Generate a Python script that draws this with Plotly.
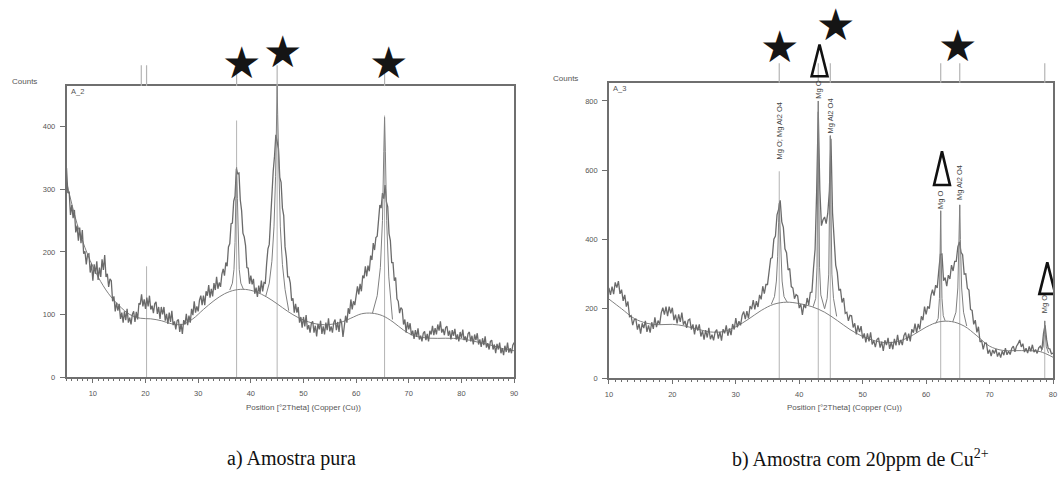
import plotly.graph_objects as go

W, H = 1058, 479
SANS = "Liberation Sans, Arial, sans-serif"
SERIF = "Liberation Serif, Times New Roman, serif"
AX = "#6f6f6f"
OBS = "#6a6a6a"
FIT = "#808080"
REF = "#b4b4b4"

# ---------------- a) pure sample, scan A_2 (5-90 deg, 0.25 deg step) ----------------
a_theta_start, a_theta_step = 5.0, 0.25
a_counts = [
    334, 294, 296, 259, 275, 254, 267, 231, 242, 218, 239, 214, 235, 197, 201, 180, 196, 197, 167, 181,
    154, 180, 165, 185, 155, 175, 160, 188, 171, 195, 160, 165, 144, 157, 154, 121, 129, 105, 119, 106,
    117, 93, 103, 87, 105, 91, 109, 87, 95, 84, 100, 105, 88, 104, 92, 118, 116, 132, 113, 124,
    109, 127, 113, 130, 108, 114, 102, 117, 120, 101, 112, 93, 112, 100, 112, 90, 101, 85, 103, 88,
    106, 83, 89, 76, 90, 92, 72, 85, 69, 91, 84, 101, 83, 98, 87, 109, 99, 121, 103, 113,
    105, 123, 130, 115, 130, 115, 137, 130, 147, 127, 141, 129, 150, 139, 160, 141, 151, 144, 164, 173,
    162, 183, 177, 208, 213, 245, 246, 281, 289, 333, 325, 326, 283, 266, 230, 224, 210, 175, 174, 149,
    162, 148, 157, 133, 143, 128, 146, 134, 154, 137, 151, 150, 181, 205, 212, 256, 277, 329, 353, 387,
    376, 365, 319, 311, 270, 258, 208, 191, 160, 160, 150, 122, 126, 103, 117, 103, 112, 87, 96, 79,
    96, 81, 99, 76, 83, 71, 86, 89, 71, 82, 65, 85, 76, 90, 69, 81, 68, 87, 75, 94,
    73, 81, 71, 87, 92, 75, 88, 72, 93, 86, 64, 83, 98, 87, 110, 101, 124, 108, 121, 115,
    136, 145, 132, 149, 137, 162, 158, 177, 161, 178, 169, 194, 187, 214, 203, 223, 225, 256, 275, 270,
    294, 285, 307, 280, 272, 229, 218, 183, 183, 154, 159, 125, 121, 102, 111, 108, 84, 92, 71, 88,
    76, 86, 67, 74, 61, 75, 64, 78, 60, 66, 57, 70, 73, 59, 69, 57, 74, 68, 82, 67,
    78, 68, 84, 74, 89, 71, 77, 67, 79, 81, 66, 74, 60, 75, 66, 77, 60, 68, 57, 72,
    62, 76, 59, 65, 56, 69, 72, 57, 66, 52, 68, 59, 70, 52, 60, 48, 62, 51, 65, 47,
    54, 44, 57, 59, 44, 52, 38, 53, 44, 55, 38, 46, 35, 50, 40, 55, 39, 46, 38, 51,
    55,
]
a_bg_theta = [5, 7, 9, 11, 13, 15, 17, 19, 21, 23, 25, 27, 29, 31, 33, 35, 37, 39, 41, 43,
              45, 47, 49, 51, 53, 55, 57, 59, 61, 63, 65, 67, 69, 71, 74, 77, 80, 83, 86, 88, 90]
a_bg_counts = [312, 245, 196, 160, 133, 114, 100, 94, 93, 90, 85, 84, 93, 108, 122, 133, 139, 140, 136, 128,
               117, 105, 95, 88, 84, 84, 87, 94, 101, 102, 98, 88, 75, 66, 62, 62, 61, 56, 50, 45, 42]
a_p1_theta = [36.0, 36.5, 36.8, 37.0, 37.15, 37.3, 37.45, 37.6, 37.8, 38.1, 38.6]
a_p1_counts = [139, 150, 172, 215, 285, 335, 285, 215, 172, 150, 140]
a_p2_theta = [42.8, 43.5, 44.0, 44.4, 44.7, 44.9, 45.0, 45.1, 45.3, 45.6, 46.0, 46.5, 47.2]
a_p2_counts = [128, 150, 185, 240, 320, 420, 465, 420, 330, 240, 180, 140, 106]
a_p3_theta = [63.1, 64.0, 64.6, 65.0, 65.25, 65.4, 65.55, 65.8, 66.2, 66.9]
a_p3_counts = [102, 130, 175, 250, 360, 415, 360, 250, 160, 92]
a_ref_theta = [20.2, 37.3, 45.0, 65.4]
a_ref_counts = [177, 410, 465, 418]
a_top_ticks = [19.2, 20.2, 37.3, 45.0, 65.4]
a_stars = [38.25, 46.0, 66.2]

# ---------------- b) sample with 20 ppm Cu2+, scan A_3 (10-80 deg, 0.25 deg step) ----------------
b_theta_start, b_theta_step = 10.0, 0.25
b_counts = [
    260, 240, 264, 242, 276, 261, 280, 243, 255, 223, 240, 206, 221, 177, 180, 153, 169, 170, 140, 156,
    128, 158, 144, 165, 133, 152, 131, 161, 142, 175, 147, 166, 155, 188, 203, 183, 206, 179, 206, 187,
    203, 167, 183, 158, 184, 162, 189, 154, 165, 145, 167, 170, 140, 155, 126, 154, 137, 155, 120, 136,
    111, 138, 117, 145, 112, 125, 109, 133, 140, 114, 133, 108, 141, 129, 152, 122, 143, 124, 156, 140,
    173, 146, 164, 152, 181, 192, 170, 193, 172, 208, 199, 225, 198, 222, 205, 240, 227, 265, 244, 270,
    270, 314, 345, 348, 401, 410, 471, 487, 513, 451, 435, 373, 362, 312, 316, 264, 260, 229, 241, 237,
    202, 213, 182, 213, 202, 231, 211, 247, 248, 317, 372, 541, 769, 542, 440, 457, 465, 446, 476, 540,
    691, 477, 408, 326, 305, 253, 257, 218, 231, 187, 190, 165, 181, 180, 146, 158, 126, 152, 133, 150,
    114, 129, 103, 129, 106, 132, 97, 108, 89, 111, 116, 88, 105, 78, 109, 95, 116, 84, 104, 83,
    113, 94, 125, 95, 110, 95, 122, 131, 107, 128, 106, 141, 131, 157, 131, 156, 141, 178, 167, 206,
    184, 207, 200, 237, 255, 238, 268, 260, 311, 357, 358, 281, 290, 265, 297, 286, 326, 309, 337, 337,
    379, 393, 363, 356, 300, 301, 259, 254, 198, 195, 155, 167, 132, 148, 104, 108, 83, 101, 101, 70,
    82, 63, 81, 71, 84, 62, 74, 59, 78, 66, 86, 67, 77, 68, 86, 92, 76, 92, 99, 110,
    90, 99, 75, 86, 72, 91, 77, 96, 75, 82, 71, 87, 92, 82, 128, 152, 110, 85, 84, 70,
    72,
]
b_bg_theta = [10, 12, 14, 16, 18, 20, 22, 24, 26, 28, 30, 32, 34, 36, 38, 40, 42, 44,
              46, 48, 50, 52, 54, 56, 58, 60, 62, 64, 66, 68, 70, 72, 74, 76, 78, 80]
b_bg_counts = [228, 200, 172, 158, 154, 155, 150, 141, 133, 134, 148, 170, 195, 213, 219, 215, 206, 190,
               166, 140, 120, 107, 102, 108, 125, 147, 162, 163, 150, 122, 92, 80, 79, 79, 76, 60]
b_p1_theta = [35.6, 36.1, 36.4, 36.6, 36.75, 36.85, 36.95, 37.1, 37.3, 37.6, 38.1]
b_p1_counts = [213, 235, 280, 350, 450, 505, 450, 350, 280, 235, 219]
b_p2_theta = [42.2, 42.6, 42.8, 42.92, 43.0, 43.08, 43.2, 43.4, 43.7, 44.0]
b_p2_counts = [206, 230, 320, 560, 800, 560, 320, 240, 220, 200]
b_p3_theta = [44.0, 44.4, 44.65, 44.8, 44.9, 45.0, 45.15, 45.4, 45.9]
b_p3_counts = [200, 230, 300, 500, 700, 500, 300, 230, 178]
b_p4_theta = [61.5, 61.9, 62.1, 62.22, 62.3, 62.38, 62.5, 62.7, 63.0]
b_p4_counts = [157, 172, 230, 350, 483, 350, 230, 180, 165]
b_p5_theta = [64.2, 64.7, 65.0, 65.2, 65.3, 65.4, 65.6, 65.9, 66.4]
b_p5_counts = [162, 190, 260, 400, 500, 400, 260, 190, 150]
b_p6_theta = [78.1, 78.45, 78.6, 78.7, 78.8, 78.95, 79.3]
b_p6_counts = [76, 90, 125, 165, 125, 90, 72]
b_ref_theta = [36.85, 43.0, 44.9, 62.3, 65.3, 78.7]
b_ref_counts = [597, 800, 700, 483, 500, 165]
b_ref_labels = ["Mg O; Mg Al2 O4", "Mg O", "Mg Al2 O4", "Mg O", "Mg Al2 O4", "Mg O"]
b_label_gap = [10, 0, 0, 0, 3, 6]
b_stars = [36.85, 45.7, 65.0]
b_triangles = [43.2, 62.5, 79.1]

# ---------------- panel geometry (pixels) ----------------
A_BOX = dict(l=63, r=514, t=87, b=381, x0=5, x1=90, y1=465)
B_BOX = dict(l=609.5, r=1057, t=83.5, b=382, x0=10, x1=80, y1=853)


def px(x):
    return x / W


def py(y):
    return 1 - y / H


def grid(start, step, n):
    return [start + i * step for i in range(n)]


def sticks(pos, hts):
    xs, ys = [], []
    for p, h in zip(pos, hts):
        xs += [p, p, None]
        ys += [0, h, None]
    return xs, ys


fig = go.Figure()


def add_panel(xa, ya, theta, counts, bg_t, bg_c, profiles, ref_t, ref_c):
    rx, ry = sticks(ref_t, ref_c)
    fig.add_trace(go.Scatter(x=rx, y=ry, mode="lines", line=dict(color=REF, width=1),
                             xaxis=xa, yaxis=ya, hoverinfo="skip"))
    fig.add_trace(go.Scatter(x=bg_t, y=bg_c, mode="lines", line=dict(color=FIT, width=1, shape="spline"),
                             xaxis=xa, yaxis=ya))
    fig.add_trace(go.Scatter(x=theta, y=counts, mode="lines", line=dict(color=OBS, width=1.3),
                             xaxis=xa, yaxis=ya))
    for t, c in profiles:
        fig.add_trace(go.Scatter(x=t, y=c, mode="lines", line=dict(color=FIT, width=1),
                                 xaxis=xa, yaxis=ya))


add_panel("x", "y", grid(a_theta_start, a_theta_step, len(a_counts)), a_counts,
          a_bg_theta, a_bg_counts,
          [(a_p1_theta, a_p1_counts), (a_p2_theta, a_p2_counts), (a_p3_theta, a_p3_counts)],
          a_ref_theta, a_ref_counts)
add_panel("x2", "y2", grid(b_theta_start, b_theta_step, len(b_counts)), b_counts,
          b_bg_theta, b_bg_counts,
          [(b_p1_theta, b_p1_counts), (b_p2_theta, b_p2_counts), (b_p3_theta, b_p3_counts),
           (b_p4_theta, b_p4_counts), (b_p5_theta, b_p5_counts), (b_p6_theta, b_p6_counts)],
          b_ref_theta, b_ref_counts)

tickfont = dict(family=SANS, size=7.5, color="#555555")


def xaxis(box, anchor):
    return dict(domain=[px(box["l"]), px(box["r"])], range=[box["x0"], box["x1"]], anchor=anchor,
                showline=True, mirror=True, linecolor=AX, linewidth=1.5,
                ticks="outside", ticklen=4, tickwidth=1, tickcolor=AX, tick0=0, dtick=10,
                ticklabelstandoff=4,
                minor=dict(dtick=1, ticks="outside", ticklen=2.5, tickwidth=1, tickcolor=AX),
                showgrid=False, zeroline=False, tickfont=tickfont)


def yaxis(box, anchor, dtick):
    return dict(domain=[py(box["b"]), py(box["t"])], range=[0, box["y1"]], anchor=anchor,
                showline=True, mirror=True, linecolor=AX, linewidth=1.5,
                ticks="outside", ticklen=5, tickwidth=1, tickcolor=AX, tick0=0, dtick=dtick,
                ticklabelstandoff=3,
                showgrid=False, zeroline=False, tickfont=tickfont)


shapes = []
annotations = []

# short reference marks above each frame
for box, xr, ticks_, top in ((A_BOX, "x", a_top_ticks, 66), (B_BOX, "x2", b_ref_theta, 64)):
    for p in ticks_:
        shapes.append(dict(type="line", xref=xr, yref="paper", x0=p, x1=p,
                           y0=py(box["t"]), y1=py(top), line=dict(color=REF, width=1.2)))

# stars over the spinel reflections
for xr, pos, ys in (("x", a_stars, [63, 52, 63]), ("x2", b_stars, [47, 25, 45.5])):
    for p, yc in zip(pos, ys):
        annotations.append(dict(xref=xr, yref="paper", x=p, y=py(yc), text="★", showarrow=False,
                                xanchor="center", yanchor="middle",
                                font=dict(family="DejaVu Sans", size=44, color="#151515")))

# open triangles over the periclase reflections
tri_tops = [45, 153, 265]
tri_bottoms = [77, 187, 297]
hw = 8 * (B_BOX["x1"] - B_BOX["x0"]) / (B_BOX["r"] - B_BOX["l"])
for p, t, b in zip(b_triangles, tri_tops, tri_bottoms):
    path = f"M {p - hw},{py(b)} L {p},{py(t)} L {p + hw},{py(b)} Z"
    shapes.append(dict(type="path", xref="x2", yref="paper", path=path,
                       line=dict(color="#111111", width=2.6), fillcolor="rgba(0,0,0,0)"))

# phase labels over the reference lines
for p, h, lab, g in zip(b_ref_theta, b_ref_counts, b_ref_labels, b_label_gap):
    annotations.append(dict(xref="x2", yref="y2", x=p, y=h, text=lab, textangle=-90, showarrow=False,
                            xanchor="center", yanchor="bottom", yshift=g,
                            font=dict(family=SANS, size=7.5, color="#444444")))

small = dict(family=SANS, size=8, color="#555555")
for xc, yc, txt in ((21, 82, "Counts"), (566, 79, "Counts"),
                    (302, 412, "Position [°2Theta] (Copper (Cu))"),
                    (847, 412, "Position [°2Theta] (Copper (Cu))")):
    annotations.append(dict(xref="paper", yref="paper", x=px(xc), y=py(yc), text=txt, showarrow=False,
                            xanchor="center", yanchor="middle", font=small))
for xl, yc, txt in ((65, 92, "A_2"), (611.5, 89, "A_3")):
    annotations.append(dict(xref="paper", yref="paper", x=px(xl), y=py(yc), text=txt, showarrow=False,
                            xanchor="left", yanchor="middle", font=dict(family=SANS, size=7.5, color="#555555")))

for xl, txt in ((223, "a) Amostra pura"), (732, "b) Amostra com 20ppm de Cu<sup>2+</sup>")):
    annotations.append(dict(xref="paper", yref="paper", x=px(xl), y=py(463), text=txt, showarrow=False,
                            xanchor="left", yanchor="middle",
                            font=dict(family=SERIF, size=20, color="#111111")))

fig.update_layout(
    width=W, height=H, margin=dict(l=0, r=0, t=0, b=0),
    paper_bgcolor="white", plot_bgcolor="white", showlegend=False,
    xaxis=xaxis(A_BOX, "y"), yaxis=yaxis(A_BOX, "x", 100),
    xaxis2=xaxis(B_BOX, "y2"), yaxis2=yaxis(B_BOX, "x2", 200),
    shapes=shapes, annotations=annotations,
)

fig.write_html("out.html")
